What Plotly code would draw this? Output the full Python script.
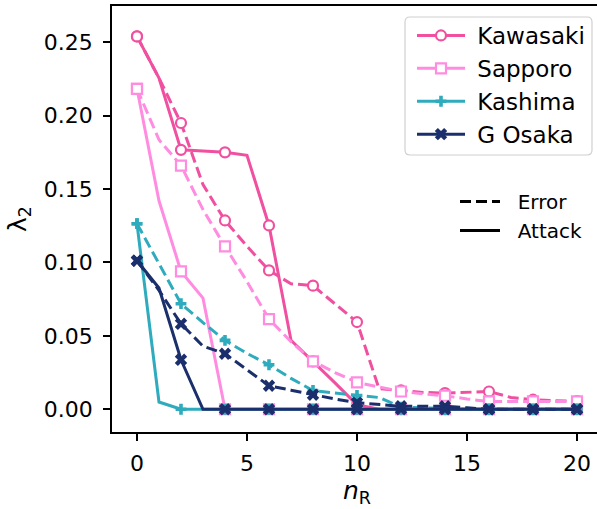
import plotly.graph_objects as go

# ---------------- data ----------------
n_r = list(range(21))

kawasaki_attack = [0.254, 0.2256, 0.1767, 0.1758, 0.175, 0.173, 0.1252, 0.047, 0.0326, 0.018, 0.003,
                   0, 0, 0, 0, 0, 0, 0, 0, 0, 0]
kawasaki_error = [0.254, 0.2256, 0.195, 0.153, 0.1286, 0.111, 0.0946, 0.0855, 0.0842, 0.072, 0.0594,
                  0.014, 0.0128, 0.0115, 0.011, 0.0115, 0.0121, 0.008, 0.0065, 0.0058, 0.0055]

sapporo_attack = [0.2183, 0.142, 0.0939, 0.0757, 0, 0, 0, 0, 0, 0, 0,
                  0, 0, 0, 0, 0, 0, 0, 0, 0, 0]
sapporo_error = [0.2183, 0.1836, 0.166, 0.136, 0.1109, 0.087, 0.0614, 0.046, 0.0326, 0.025, 0.0183,
                 0.015, 0.0121, 0.0105, 0.0092, 0.007, 0.0053, 0.0053, 0.0053, 0.0053, 0.0053]

kashima_attack = [0.1264, 0.0049, 0, 0, 0, 0, 0, 0, 0, 0, 0,
                  0, 0, 0, 0, 0, 0, 0, 0, 0, 0]
kashima_error = [0.1264, 0.099, 0.0719, 0.059, 0.0469, 0.038, 0.0303, 0.021, 0.0128, 0.011, 0.0094,
                 0.008, 0.0015, 0.001, 0, 0, 0, 0, 0, 0, 0]

gosaka_attack = [0.1012, 0.0826, 0.0337, 0, 0, 0, 0, 0, 0, 0, 0,
                 0, 0, 0, 0, 0, 0, 0, 0, 0, 0]
gosaka_error = [0.1012, 0.081, 0.0582, 0.043, 0.0378, 0.027, 0.016, 0.013, 0.0099, 0.007, 0.0045,
                0.003, 0.002, 0.002, 0.002, 0.001, 0, 0, 0, 0, 0]

teams = ["Kawasaki", "Sapporo", "Kashima", "G Osaka"]
attack = [kawasaki_attack, sapporo_attack, kashima_attack, gosaka_attack]
error = [kawasaki_error, sapporo_error, kashima_error, gosaka_error]

x_ticks = [0, 5, 10, 15, 20]
y_ticks = [0.00, 0.05, 0.10, 0.15, 0.20, 0.25]

# ---------------- styles ----------------
colors = ["#f0509f", "#ff8ce0", "#2eabbd", "#1a2f6b"]
markers = [
    dict(symbol="circle", size=10, color="white", line=dict(width=2.2, color=colors[0])),
    dict(symbol="square", size=10, color="white", line=dict(width=2.2, color=colors[1])),
    dict(symbol="cross", size=9, color=colors[2], line=dict(width=0)),
    dict(symbol="x", size=11, color=colors[3], line=dict(width=0)),
]
LW = 3
DASH = "11px,5px"
FONT = "DejaVu Sans"
FS = 22

fig = go.Figure()

for i, team in enumerate(teams):
    for vals, dash in ((error[i], DASH), (attack[i], "solid")):
        fig.add_trace(go.Scatter(
            x=n_r, y=vals, mode="lines",
            line=dict(color=colors[i], width=LW, dash=dash),
            showlegend=False, hoverinfo="skip"))
        xs = [x for x in n_r if x % 2 == 0]
        ys = [v for x, v in zip(n_r, vals) if x % 2 == 0]
        fig.add_trace(go.Scatter(
            x=xs, y=ys, mode="markers", marker=markers[i],
            showlegend=False, hoverinfo="skip"))

# legend entries for teams
for i, team in enumerate(teams):
    fig.add_trace(go.Scatter(
        x=[None], y=[None], mode="lines+markers", name=" " + team,
        line=dict(color=colors[i], width=LW), marker=markers[i],
        legend="legend", legendgroup=team))

# legend entries for line style
for name, dash in (("Error", DASH), ("Attack", "solid")):
    fig.add_trace(go.Scatter(
        x=[None], y=[None], mode="lines", name="  " + name,
        line=dict(color="black", width=LW, dash=dash),
        legend="legend2", legendgroup=name))

# layout geometry (pixels); figure slightly wider than the window so the
# right spine falls just outside the view, as in the reference crop
W, H = 602, 509
L, R, T, B = 112, 0, 6, 77
pw, ph = W - L - R, H - T - B

def px2paper(px, py):
    return (px - L) / pw, (H - B - py) / ph

x0, y0 = px2paper(405, 17)
x1, y1 = px2paper(592, 155)
rx, ry = 5 / pw, 5 / ph
path = (f"M{x0+rx},{y0} L{x1-rx},{y0} Q{x1},{y0} {x1},{y0-ry} "
        f"L{x1},{y1+ry} Q{x1},{y1} {x1-rx},{y1} L{x0+rx},{y1} Q{x0},{y1} {x0},{y1+ry} "
        f"L{x0},{y0-ry} Q{x0},{y0} {x0+rx},{y0} Z")
fig.add_shape(type="path", path=path, xref="paper", yref="paper",
              line=dict(color="#d0d0d0", width=1.2), fillcolor="rgba(255,255,255,0.8)",
              layer="above")

lx, ly = px2paper(412, 14)
l2x, l2y = px2paper(455, 182)

fig.update_layout(
    width=W, height=H,
    margin=dict(l=L, r=R, t=T, b=B, pad=0),
    paper_bgcolor="white", plot_bgcolor="white",
    font=dict(family=FONT, size=FS, color="black"),
    xaxis=dict(
        range=[-1.136, 21.136], tickvals=x_ticks, ticktext=[str(v) for v in x_ticks],
        showgrid=False, zeroline=False, showline=True, linecolor="black", linewidth=1.5,
        mirror=True, ticks="outside", ticklen=7, tickwidth=1.5, tickcolor="black",
        ticklabelstandoff=4,
        title=dict(text="<i>n</i><sub>R</sub>", font=dict(size=25, family=FONT), standoff=3),
    ),
    yaxis=dict(
        range=[-0.0155, 0.2747], tickvals=y_ticks, ticktext=[f"{v:.2f}" for v in y_ticks],
        showgrid=False, zeroline=False, showline=True, linecolor="black", linewidth=1.5,
        mirror=False, ticks="outside", ticklen=7, tickwidth=1.5, tickcolor="black",
        ticklabelstandoff=6,
        title=dict(text="λ<sub>2</sub>", font=dict(size=25, family=FONT), standoff=10),
    ),
    legend=dict(
        x=lx, y=ly, xanchor="left", yanchor="top",
        bgcolor="rgba(0,0,0,0)", borderwidth=0, bordercolor="rgba(0,0,0,0)",
        font=dict(size=23, family=FONT), itemwidth=48, tracegroupgap=1,
        traceorder="normal",
    ),
    legend2=dict(
        x=l2x, y=l2y, xanchor="left", yanchor="top",
        bgcolor="rgba(0,0,0,0)", borderwidth=0, bordercolor="rgba(0,0,0,0)",
        font=dict(size=20, family=FONT), itemwidth=40, tracegroupgap=0,
        traceorder="normal",
    ),
)

fig.write_html("out.html", config={"displayModeBar": False},
               post_script="document.body.style.margin='0';document.body.style.overflow='hidden';")
